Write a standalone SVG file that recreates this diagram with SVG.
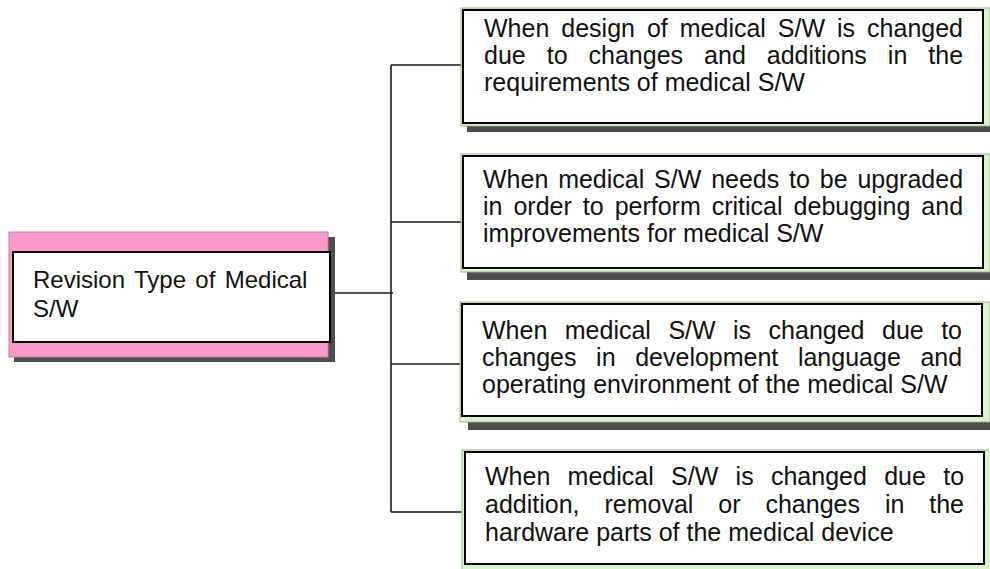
<svg xmlns="http://www.w3.org/2000/svg" width="990" height="569" viewBox="0 0 990 569">
<style>
.bg{fill:#ffffff}
.shadow{fill:#4d4d4d}
.green{fill:#dcf5c8;stroke:#9db68c;stroke-width:1}
.pink{fill:#ff99cc;stroke:#c0809f;stroke-width:1}
.box{fill:#ffffff;stroke:#000000;stroke-width:2}
.t{font-family:"Liberation Sans",Arial,sans-serif;font-size:25px;fill:#111111}
.tl{font-family:"Liberation Sans",Arial,sans-serif;font-size:24px;fill:#111111}
.conn{stroke:#1a1a1a;stroke-width:1.6;fill:none}
</style>
<rect class="bg" x="0" y="0" width="990" height="569"/>
<g id="connectors">
<line class="conn" x1="335" y1="293" x2="393" y2="293"/>
<line class="conn" x1="391" y1="65" x2="391" y2="512"/>
<line class="conn" x1="391" y1="65" x2="463" y2="65"/>
<line class="conn" x1="391" y1="222" x2="463" y2="222"/>
<line class="conn" x1="391" y1="364" x2="462" y2="364"/>
<line class="conn" x1="391" y1="512" x2="465" y2="512"/>
</g>
<g id="root">
<rect class="shadow" x="14" y="237" width="321" height="125"/>
<rect class="pink" x="9" y="232" width="319" height="125"/>
<rect class="box" x="13" y="252" width="317" height="90"/>
<text class="tl" x="33" y="288" word-spacing="2.7">Revision Type of Medical</text>
<text class="tl" x="33" y="317">S/W</text>
</g>
<g id="node1">
<rect class="shadow" x="467" y="14" width="529" height="118"/>
<rect class="green" x="461" y="8" width="529" height="118"/>
<rect class="box" x="463" y="10" width="520" height="113"/>
<text class="t" x="484" y="37" word-spacing="5.03">When design of medical S/W is changed</text>
<text class="t" x="484" y="64" word-spacing="14.05">due to changes and additions in the</text>
<text class="t" x="484" y="91">requirements of medical S/W</text>
</g>
<g id="node2">
<rect class="shadow" x="467" y="162" width="529" height="118"/>
<rect class="green" x="461" y="154" width="529" height="118"/>
<rect class="box" x="463" y="156" width="520" height="112"/>
<text class="t" x="483" y="188" word-spacing="2.88">When medical S/W needs to be upgraded</text>
<text class="t" x="483" y="215" word-spacing="4.04">in order to perform critical debugging and</text>
<text class="t" x="483" y="242">improvements for medical S/W</text>
</g>
<g id="node3">
<rect class="shadow" x="468" y="312" width="529" height="118"/>
<rect class="green" x="460" y="302" width="530" height="120"/>
<rect class="box" x="462" y="304" width="520" height="112"/>
<text class="t" x="482" y="339" word-spacing="10.52">When medical S/W is changed due to</text>
<text class="t" x="482" y="366" word-spacing="12.65">changes in development language and</text>
<text class="t" x="482" y="393">operating environment of the medical S/W</text>
</g>
<g id="node4">
<rect class="shadow" x="470" y="458" width="529" height="118"/>
<rect class="green" x="462" y="450" width="530" height="120"/>
<rect class="box" x="465" y="452" width="519" height="112"/>
<text class="t" x="485" y="485" word-spacing="10.36">When medical S/W is changed due to</text>
<text class="t" x="485" y="513" word-spacing="17.98">addition, removal or changes in the</text>
<text class="t" x="485" y="541">hardware parts of the medical device</text>
</g>
</svg>
